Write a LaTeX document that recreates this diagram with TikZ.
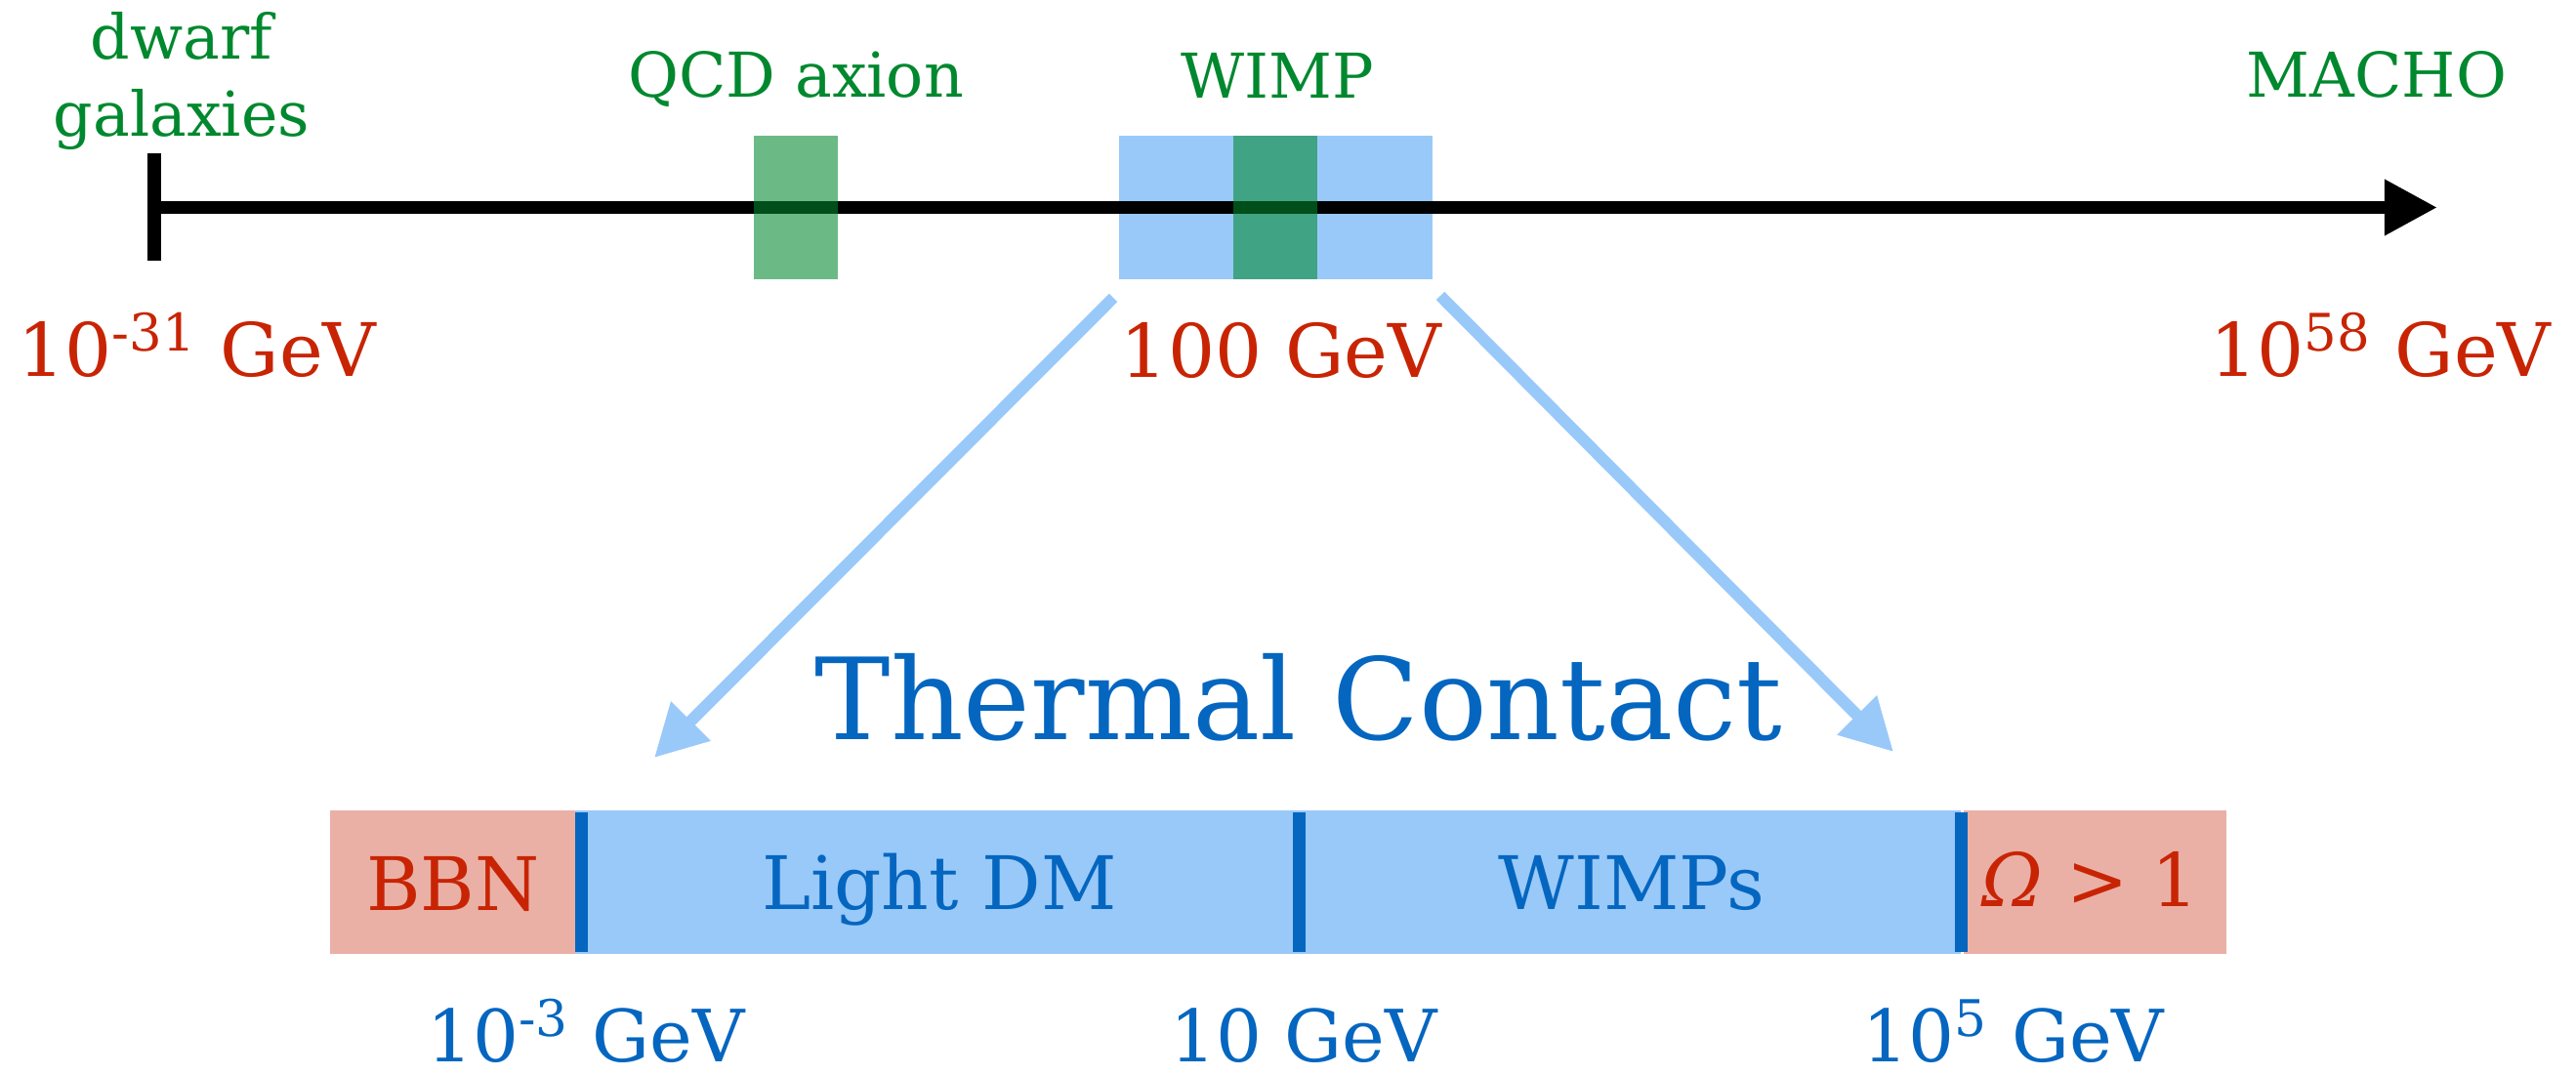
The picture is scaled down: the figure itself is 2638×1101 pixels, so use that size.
\documentclass[tikz,border=0pt]{standalone}
\usepackage{fontspec}
\setmainfont{DejaVu Serif}
\usepackage{xcolor}
\usepackage{tikz}
\usetikzlibrary{arrows.meta, positioning, calc}

\definecolor{massred}{RGB}{200,36,4}
\definecolor{candgreen}{RGB}{0,136,46}
\definecolor{paleblue}{RGB}{153,201,249}
\definecolor{deepblue}{RGB}{5,102,192}
\definecolor{salmon}{RGB}{234,176,166}

\begin{document}
\begin{tikzpicture}[x=0.01cm, y=-0.01cm,
    cand/.style={text=candgreen, inner sep=0, anchor=base, font=\fontsize{18}{22.5}\selectfont},
    mass/.style={text=massred, inner sep=0, anchor=base, font=\fontsize{21.5}{26}\selectfont},
    lowmass/.style={text=deepblue, inner sep=0, anchor=base, font=\fontsize{21}{25}\selectfont},
    region/.style={inner sep=0, anchor=base, font=\fontsize{21.5}{26}\selectfont},
    band/.style={fill=candgreen, fill opacity=0.58, inner sep=0, minimum width=0.86cm, minimum height=1.47cm},
    bar/.style={inner sep=0, minimum height=1.47cm},
    zoomarr/.style={paleblue, line width=0.12cm, -{Triangle[length=0.53cm, width=0.54cm]}},
    divider/.style={deepblue, line width=0.13cm}]
	\useasboundingbox (0,0) rectangle (2638,1101);
	% mass axis
	\node[fill=paleblue, inner sep=0, minimum width=3.21cm, minimum height=1.47cm] (wimpbox) at (1306.5,212.5) {};
	\coordinate (axstart) at (158,212.5);
	\coordinate (axend) at (2496,212.5);
	\draw[line width=0.13cm] (158,157) -- (158,267);
	\draw[line width=0.13cm, -{Triangle[length=0.54cm, width=0.54cm]}] (axstart) -- (axend);
	\node[band] (qcdband) at (815,212.5) {};
	\node[band] (wimpband) at (1306,212.5) {};
	\node[cand, align=center, anchor=south] (dwarf) at (186,154) {dwarf\\galaxies};
	\node[cand] (qcd) at (815,100) {QCD axion};
	\node[cand] (wimp) at (1308,101) {WIMP};
	\node[cand] (macho) at (2434,100) {MACHO};
	\node[mass] (mlow) at (202,386) {10\textsuperscript{-31} GeV};
	\node[mass] (mmid) at (1312,387) {100 GeV};
	\node[mass] (mhigh) at (2438,386) {10\textsuperscript{58} GeV};
	% zoom
	\coordinate (lfrom) at (1140,305);
	\coordinate (lto) at (670,776);
	\coordinate (rfrom) at (1475,303);
	\coordinate (rto) at (1939,770);
	\draw[zoomarr] (lfrom) -- (lto);
	\draw[zoomarr] (rfrom) -- (rto);
	\node[text=deepblue, inner sep=0, anchor=base, font=\fontsize{33}{40}\selectfont] (thermal) at (1330,758) {Thermal Contact};
	% thermal window
	\node[bar, fill=salmon, minimum width=2.52cm] (bbnbox) at (464,903.5) {};
	\node[bar, fill=paleblue, minimum width=14.18cm] (dmbox) at (1299,903.5) {};
	\node[bar, fill=salmon, minimum width=2.69cm] (omegabox) at (2145.5,903.5) {};
	\foreach \x in {595,1330,2008}
		\draw[divider] (\x,832) -- (\x,975);
	\node[region, text=massred] (bbn) at (464,933) {BBN};
	\node[region, text=deepblue] (light) at (962,932) {Light DM};
	\node[region, text=deepblue] (wimps) at (1671,932) {WIMPs};
	\node[region, text=massred] (omega) at (2141,929) {\textit{Ω} > 1};
	\node[lowmass] (tlow) at (600,1088) {10\textsuperscript{-3} GeV};
	\node[lowmass] (tmid) at (1335,1088) {10 GeV};
	\node[lowmass] (thigh) at (2062,1088) {10\textsuperscript{5} GeV};
\end{tikzpicture}
\end{document}
